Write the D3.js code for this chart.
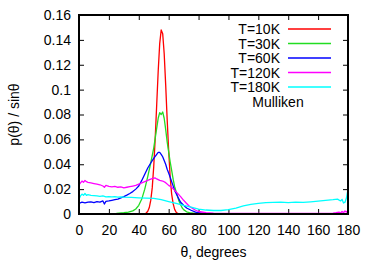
<!DOCTYPE html>
<html><head><meta charset="utf-8">
<script src="https://cdn.jsdelivr.net/npm/d3@7"></script>
<style>body{margin:0;background:#fff}svg{display:block}text{font-family:"Liberation Sans",Arial,sans-serif;font-size:14px;fill:#000}</style>
</head><body><svg id="c" width="374" height="262"></svg>
<script>
const xTicks = [0,20,40,60,80,100,120,140,160,180];
const yTicks = [0,0.02,0.04,0.06,0.08,0.1,0.12,0.14,0.16];
const yTickLabels = ["0","0.02","0.04","0.06","0.08","0.1","0.12","0.14","0.16"];
const seriesNames = ["T=10K","T=30K","T=60K","T=120K","T=180K"];
const keyTitle = "Mulliken";
const seriesColors = ["#ff0000","#22dd22","#0000ff","#ff00ff","#00ffff"];

const t10 = [[0,0],[43,0],[44,0.0002],[45,0.0008],[46,0.0022],[47,0.005],[48,0.0109],[49,0.021],[50,0.038],[51,0.061],[52,0.088],[53,0.115],[54,0.137],[55,0.148],[56,0.145],[57,0.129],[58,0.104],[59,0.076],[60,0.051],[61,0.030],[62,0.016],[63,0.0083],[64,0.0037],[65,0.0015],[66,0.0005],[67,0.0001],[68,0],[180,0]];
const t30 = [[0,0],[15,0],[20,0.0002],[25,0.0005],[30,0.001],[33,0.0015],[36,0.0025],[38,0.004],[40,0.007],[42,0.012],[44,0.02],[46,0.03],[48,0.041],[50,0.053],[51,0.061],[52,0.069],[53,0.077],[54,0.0815],[55,0.080],[56,0.082],[57,0.077],[58,0.068],[59,0.058],[60,0.050],[61,0.042],[62,0.035],[63,0.028],[64,0.022],[65,0.018],[66,0.014],[67,0.010],[68,0.0075],[69,0.005],[70,0.0035],[72,0.0018],[75,0.0008],[80,0.0002],[85,0],[180,0]];
const t60 = [[0,0.0085],[2,0.0095],[4,0.009],[6,0.0095],[8,0.0098],[10,0.0092],[12,0.01],[14,0.0095],[16,0.0105],[17,0.008],[18,0.0102],[20,0.0105],[22,0.011],[24,0.0115],[26,0.012],[28,0.013],[30,0.014],[32,0.0152],[34,0.0165],[36,0.018],[38,0.02],[40,0.0225],[42,0.027],[44,0.032],[46,0.037],[48,0.041],[50,0.0448],[52,0.048],[53,0.0495],[54,0.0496],[55,0.048],[56,0.046],[57,0.043],[58,0.04],[59,0.036],[60,0.033],[62,0.026],[64,0.019],[66,0.014],[68,0.0095],[70,0.007],[72,0.0048],[75,0.003],[78,0.0015],[80,0.001],[85,0.0003],[90,0],[180,0]];
const t120 = [[0,0.0235],[1,0.025],[2,0.0265],[3,0.0255],[4,0.027],[5,0.026],[6,0.0255],[8,0.025],[10,0.0245],[12,0.024],[14,0.0235],[16,0.0225],[17,0.0215],[18,0.023],[20,0.0222],[22,0.0218],[24,0.0222],[26,0.0215],[28,0.0218],[30,0.021],[32,0.0215],[34,0.022],[36,0.0225],[38,0.023],[40,0.024],[42,0.025],[44,0.026],[46,0.027],[48,0.028],[50,0.0288],[51,0.029],[52,0.0282],[54,0.027],[56,0.0265],[58,0.0252],[60,0.023],[62,0.0215],[64,0.019],[66,0.0165],[68,0.014],[70,0.011],[72,0.0085],[74,0.006],[76,0.0045],[78,0.003],[80,0.002],[85,0.001],[90,0.0006],[100,0.0005],[120,0.0005],[140,0.0005],[160,0.0005],[170,0.0006],[172,0.001],[174,0.0015],[175,0.0008],[176,0.002],[177,0.001],[178,0.0025],[179,0.0015],[180,0.003]];
const t180 = [[0,0.012],[1,0.0145],[2,0.016],[3,0.015],[4,0.0165],[5,0.015],[6,0.0155],[8,0.015],[10,0.0148],[12,0.0145],[14,0.0142],[16,0.0145],[18,0.0138],[20,0.014],[22,0.0138],[24,0.014],[26,0.0135],[28,0.0138],[30,0.0135],[35,0.0133],[40,0.013],[45,0.0128],[50,0.0125],[55,0.0115],[60,0.010],[65,0.0085],[70,0.007],[75,0.0055],[80,0.004],[85,0.0032],[90,0.0028],[95,0.0028],[100,0.0035],[105,0.0048],[110,0.0065],[115,0.0078],[120,0.0086],[125,0.0092],[130,0.0093],[135,0.0095],[140,0.0092],[145,0.0096],[150,0.0093],[155,0.0098],[160,0.0104],[165,0.011],[170,0.0115],[173,0.012],[175,0.0105],[176,0.0118],[177,0.0088],[178,0.0095],[179,0.013],[180,0.02]];
const seriesData = [t10,t30,t60,t120,t180];

const L=79,R=348,T=15,B=214;
const svg = d3.select("#c");
const x = d3.scaleLinear().domain([0,180]).range([L,R]);
const y = d3.scaleLinear().domain([0,0.16]).range([B,T]);

svg.append("defs").append("clipPath").attr("id","pc").append("rect")
  .attr("x",L).attr("y",T).attr("width",R-L).attr("height",B-T);

const line = d3.line().x(d=>x(d[0])).y(d=>y(d[1]));

const tk = 5;
svg.append("g").attr("transform",`translate(0,${B})`)
  .call(d3.axisBottom(x).tickValues(xTicks).tickSize(-tk).tickPadding(11).tickFormat(d3.format("d")))
  .call(g=>{g.select(".domain").remove();g.selectAll("text").attr("font-size",14).attr("font-family","Liberation Sans, Arial").attr("dy","0.71em");});
svg.append("g").attr("transform",`translate(0,${T})`)
  .call(d3.axisTop(x).tickValues(xTicks.slice(1,-1)).tickSize(-tk).tickFormat(""))
  .call(g=>g.select(".domain").remove());
svg.append("g").attr("transform",`translate(${L},0)`)
  .call(d3.axisLeft(y).tickValues(yTicks).tickSize(-tk).tickPadding(8).tickFormat((d,i)=>yTickLabels[i]))
  .call(g=>{g.select(".domain").remove();g.selectAll("text").attr("font-size",14).attr("font-family","Liberation Sans, Arial");});
svg.append("g").attr("transform",`translate(${R},0)`)
  .call(d3.axisRight(y).tickValues(yTicks.slice(1,-1)).tickSize(-tk).tickFormat(""))
  .call(g=>g.select(".domain").remove());
svg.selectAll(".tick line").attr("stroke","#000").attr("stroke-width",1);

const gl = svg.append("g").attr("clip-path","url(#pc)");
seriesData.forEach((d,i)=>{
  gl.append("path").datum(d).attr("d",line).attr("fill","none")
    .attr("stroke",seriesColors[i]).attr("stroke-width",1.3).attr("stroke-linejoin","round");
});

svg.append("rect").attr("x",L).attr("y",T).attr("width",R-L).attr("height",B-T)
  .attr("fill","none").attr("stroke","#000").attr("stroke-width",2);

const ky0 = 29, kdy = 14.5;
seriesNames.forEach((n,i)=>{
  const yy = ky0 + i*kdy;
  svg.append("text").attr("x",280).attr("y",yy).attr("dy","0.36em").attr("text-anchor","end").text(n);
  svg.append("line").attr("x1",288).attr("x2",331).attr("y1",yy).attr("y2",yy)
    .attr("stroke",seriesColors[i]).attr("stroke-width",1.3);
});
svg.append("text").attr("x",278).attr("y",ky0+5*kdy).attr("dy","0.36em").attr("text-anchor","middle").text(keyTitle);

svg.append("text").attr("x",(L+R)/2).attr("y",257).attr("text-anchor","middle").text("θ, degrees");
svg.append("text").attr("transform",`translate(19,${(T+B)/2}) rotate(-90)`).attr("text-anchor","middle").text("p(θ) / sinθ");
</script></body></html>
